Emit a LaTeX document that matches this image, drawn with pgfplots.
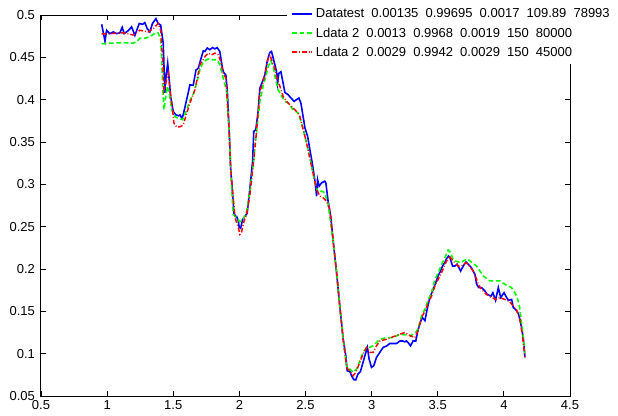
\documentclass[border=0pt]{standalone}
\usepackage{fontspec}
\setmainfont{Liberation Sans}
\usepackage{pgfplots}
\pgfplotsset{compat=1.18}
\usepackage{pgfplotstable}

\definecolor{mblue}{RGB}{0,0,255}
\definecolor{mgreen}{RGB}{0,255,0}
\definecolor{mred}{RGB}{255,0,0}

% Datatest
\pgfplotstableread{
x y
0.959 0.489
0.984 0.469
0.996 0.482
1.021 0.478
1.046 0.480
1.072 0.478
1.097 0.479
1.114 0.4855
1.129 0.478
1.160 0.4815
1.185 0.486
1.210 0.476
1.243 0.490
1.268 0.489
1.285 0.491
1.303 0.484
1.323 0.480
1.343 0.490
1.369 0.4957
1.386 0.490
1.405 0.488
1.424 0.467
1.437 0.408
1.444 0.425
1.458 0.443
1.470 0.423
1.480 0.404
1.500 0.386
1.520 0.382
1.541 0.381
1.551 0.382
1.566 0.378
1.575 0.382
1.613 0.408
1.626 0.4175
1.651 0.417
1.672 0.435
1.689 0.437
1.707 0.447
1.727 0.4576
1.740 0.457
1.757 0.461
1.777 0.459
1.798 0.4615
1.815 0.460
1.832 0.4615
1.852 0.457
1.866 0.443
1.878 0.433
1.898 0.429
1.909 0.410
1.924 0.359
1.934 0.319
1.949 0.288
1.959 0.266
1.972 0.262
1.980 0.262
1.992 0.2565
1.999 0.249
2.010 0.248
2.024 0.2585
2.041 0.262
2.059 0.266
2.080 0.296
2.100 0.327
2.109 0.3626
2.124 0.3645
2.142 0.386
2.155 0.4136
2.175 0.4214
2.192 0.429
2.210 0.445
2.230 0.4556
2.243 0.457
2.256 0.449
2.269 0.441
2.281 0.433
2.289 0.4195
2.298 0.431
2.314 0.433
2.331 0.4195
2.344 0.4085
2.369 0.4058
2.390 0.402
2.414 0.398
2.432 0.400
2.450 0.402
2.465 0.396
2.482 0.380
2.496 0.3665
2.516 0.3567
2.533 0.341
2.551 0.3253
2.566 0.3095
2.576 0.2978
2.584 0.286
2.591 0.3057
2.603 0.2978
2.622 0.3018
2.646 0.3037
2.654 0.3018
2.671 0.280
2.691 0.262
2.708 0.235
2.735 0.1957
2.759 0.1564
2.785 0.117
2.805 0.0975
2.815 0.0799
2.836 0.0787
2.848 0.074
2.865 0.0693
2.880 0.069
2.897 0.076
2.915 0.0787
2.935 0.0897
2.956 0.1015
2.968 0.1074
2.981 0.0936
2.999 0.0838
3.016 0.0857
3.037 0.0956
3.062 0.1015
3.087 0.1074
3.113 0.109
3.137 0.112
3.163 0.112
3.188 0.112
3.214 0.115
3.234 0.115
3.251 0.114
3.264 0.115
3.277 0.113
3.294 0.1093
3.314 0.115
3.334 0.115
3.352 0.129
3.365 0.135
3.382 0.143
3.403 0.139
3.420 0.1525
3.440 0.1663
3.466 0.176
3.485 0.184
3.503 0.192
3.521 0.1976
3.536 0.2035
3.553 0.2075
3.567 0.2122
3.581 0.2153
3.592 0.2134
3.612 0.2035
3.630 0.2035
3.647 0.2055
3.673 0.1976
3.693 0.2035
3.713 0.2083
3.734 0.205
3.754 0.2016
3.781 0.1938
3.794 0.182
3.810 0.178
3.831 0.178
3.857 0.174
3.874 0.170
3.903 0.168
3.917 0.172
3.937 0.163
3.958 0.178
3.976 0.1663
4.001 0.172
4.021 0.1663
4.034 0.163
4.059 0.164
4.071 0.1545
4.092 0.1517
4.109 0.1475
4.121 0.1407
4.134 0.131
4.146 0.119
4.153 0.109
4.159 0.0956
}\datatest

% Ldata 2 (80000)
\pgfplotstableread{
x y
0.959 0.466
1.022 0.4667
1.122 0.4674
1.197 0.4667
1.223 0.4686
1.248 0.4725
1.286 0.4725
1.323 0.4745
1.362 0.4784
1.386 0.479
1.405 0.4706
1.413 0.447
1.420 0.4156
1.430 0.388
1.444 0.404
1.454 0.4156
1.470 0.408
1.488 0.388
1.512 0.380
1.538 0.378
1.571 0.3763
1.602 0.388
1.626 0.399
1.653 0.407
1.680 0.4214
1.701 0.435
1.727 0.445
1.764 0.448
1.802 0.447
1.832 0.447
1.853 0.441
1.878 0.4254
1.904 0.410
1.924 0.360
1.934 0.320
1.953 0.2644
1.980 0.2605
2.004 0.2558
2.029 0.2585
2.055 0.2683
2.080 0.292
2.105 0.3233
2.130 0.3626
2.155 0.398
2.181 0.4175
2.193 0.4234
2.218 0.439
2.238 0.446
2.256 0.439
2.274 0.4234
2.294 0.4117
2.320 0.4038
2.345 0.398
2.370 0.396
2.407 0.388
2.445 0.3842
2.470 0.3724
2.496 0.3567
2.520 0.341
2.546 0.3213
2.571 0.3018
2.596 0.290
2.622 0.292
2.646 0.290
2.671 0.2762
2.708 0.235
2.735 0.196
2.759 0.157
2.785 0.117
2.811 0.0857
2.836 0.0818
2.860 0.078
2.886 0.0818
2.911 0.0916
2.935 0.1015
2.962 0.1074
2.986 0.1074
3.012 0.1093
3.037 0.1133
3.063 0.117
3.113 0.119
3.163 0.119
3.214 0.123
3.265 0.122
3.294 0.121
3.334 0.125
3.352 0.130
3.378 0.145
3.403 0.1525
3.429 0.164
3.453 0.172
3.479 0.188
3.504 0.1957
3.530 0.2055
3.554 0.2134
3.579 0.2224
3.597 0.2193
3.616 0.2114
3.641 0.209
3.672 0.2075
3.723 0.212
3.793 0.2035
3.843 0.192
3.894 0.186
3.970 0.186
4.007 0.182
4.058 0.178
4.098 0.168
4.118 0.156
4.133 0.137
4.146 0.121
4.159 0.0975
}\ldataA

% Ldata 2 (45000)
\pgfplotstableread{
x y
0.959 0.4776
1.022 0.478
1.122 0.479
1.197 0.4764
1.248 0.482
1.311 0.480
1.349 0.484
1.386 0.490
1.405 0.482
1.420 0.447
1.430 0.4117
1.444 0.420
1.463 0.431
1.475 0.4117
1.495 0.388
1.505 0.3724
1.526 0.3677
1.551 0.368
1.575 0.370
1.602 0.384
1.626 0.396
1.664 0.4117
1.689 0.431
1.701 0.441
1.740 0.451
1.764 0.455
1.790 0.453
1.815 0.455
1.841 0.453
1.859 0.445
1.878 0.431
1.898 0.4254
1.924 0.359
1.934 0.319
1.967 0.2605
1.992 0.249
2.004 0.2409
2.016 0.243
2.035 0.2565
2.055 0.265
2.080 0.288
2.105 0.3233
2.130 0.3626
2.155 0.410
2.181 0.4214
2.206 0.439
2.218 0.449
2.231 0.4529
2.244 0.447
2.264 0.439
2.281 0.427
2.307 0.4156
2.331 0.4038
2.357 0.398
2.395 0.392
2.433 0.386
2.458 0.380
2.483 0.3645
2.508 0.349
2.546 0.3213
2.584 0.294
2.609 0.286
2.634 0.284
2.659 0.280
2.684 0.2703
2.708 0.235
2.735 0.196
2.759 0.157
2.785 0.117
2.811 0.0837
2.841 0.078
2.860 0.074
2.881 0.078
2.906 0.0878
2.935 0.0995
2.962 0.1074
2.986 0.1015
3.012 0.1015
3.037 0.1093
3.063 0.115
3.113 0.117
3.163 0.120
3.214 0.123
3.252 0.125
3.294 0.121
3.327 0.119
3.352 0.128
3.378 0.143
3.403 0.150
3.429 0.160
3.453 0.168
3.479 0.180
3.504 0.188
3.530 0.196
3.554 0.2055
3.573 0.2114
3.587 0.2153
3.616 0.2094
3.655 0.2035
3.679 0.2035
3.713 0.2075
3.730 0.2055
3.768 0.1976
3.794 0.188
3.806 0.182
3.831 0.176
3.868 0.170
3.906 0.1663
3.944 0.164
3.970 0.1663
4.007 0.164
4.038 0.1623
4.070 0.1565
4.096 0.152
4.120 0.1407
4.139 0.123
4.159 0.0956
}\ldataB

\begin{document}
\begin{tikzpicture}
% page = 618x415 px, 1px = 0.75pt; axis box is 529x381 px
\path[use as bounding box] (-30.75pt,-14.25pt) rectangle (432.75pt,297pt);
\begin{axis}[
    at={(0pt,0pt)}, anchor=south west,
    scale only axis,
    width=396.75pt, height=285.75pt,
    xmin=0.5, xmax=4.5, ymin=0.05, ymax=0.5,
    xtick={0.5,1,1.5,2,2.5,3,3.5,4,4.5},
    ytick={0.05,0.1,0.15,0.2,0.25,0.3,0.35,0.4,0.45,0.5},
    tick align=inside, major tick length=3.75pt,
    tick style={black, line width=0.6pt},
    axis line style={line width=0.75pt},
    font=\fontsize{9.75}{11}\selectfont,
    /pgf/number format/assume math mode=true,
    /pgf/number format/fixed,
    /pgf/number format/precision=2,
    yticklabel style={xshift=-1pt},
    legend style={at={(0.465,1.031)}, anchor=north west, draw=none, fill=white,
        inner xsep=3pt, inner ysep=2pt, row sep=1.8pt,
        font=\fontsize{9.75}{11}\selectfont},
    legend cell align=left,
    legend image code/.code={%
        \draw[#1] (0pt,0pt) -- (15pt,0pt);},
]
\addlegendimage{color=mblue, line width=1.5pt, solid}
\addlegendentry{Datatest\hspace{0.55em}0.00135\hspace{0.55em}0.99695\hspace{0.55em}0.0017\hspace{0.55em}109.89\hspace{0.55em}78993}
\addlegendimage{color=mgreen, line width=1.5pt, dash pattern=on 3.5pt off 2pt}
\addlegendentry{Ldata 2\hspace{0.55em}0.0013\hspace{0.55em}0.9968\hspace{0.55em}0.0019\hspace{0.55em}150\hspace{0.55em}80000}
\addlegendimage{color=mred, line width=1.5pt, dash pattern=on 3.5pt off 1.5pt on 0.7pt off 1.5pt}
\addlegendentry{Ldata 2\hspace{0.55em}0.0029\hspace{0.55em}0.9942\hspace{0.55em}0.0029\hspace{0.55em}150\hspace{0.55em}45000}
\addplot[forget plot, color=mblue, line width=1.2pt] table {\datatest};
\addplot[forget plot, color=mgreen, line width=1.2pt, dash pattern=on 3.5pt off 2pt] table {\ldataA};
\addplot[forget plot, color=mred, line width=1.1pt, dash pattern=on 3.5pt off 1.5pt on 0.7pt off 1.5pt] table {\ldataB};
\end{axis}
\end{tikzpicture}
\end{document}
